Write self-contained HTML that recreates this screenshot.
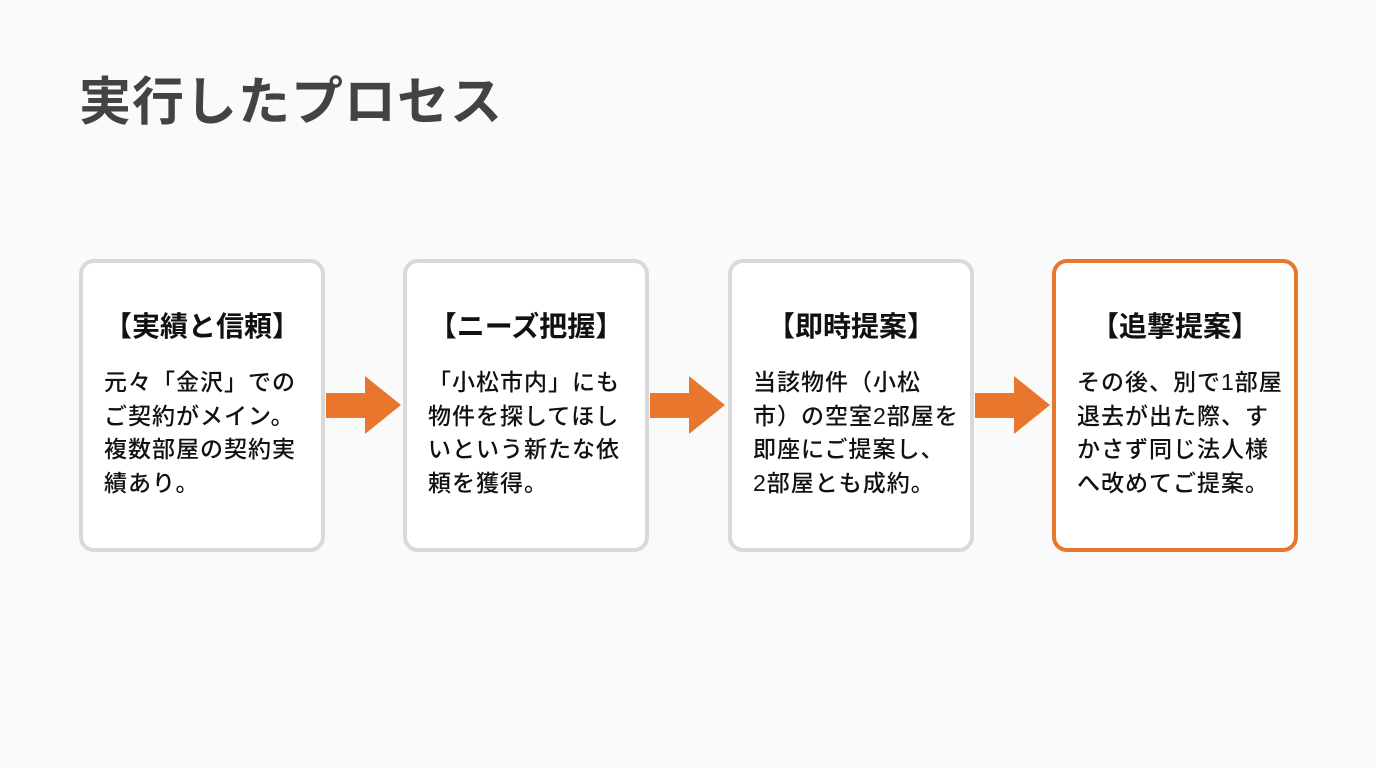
<!DOCTYPE html>
<html><head><meta charset="utf-8"><style>
body{margin:0;width:1376px;height:768px;background:#fafafa;font-family:"Liberation Sans","Noto Sans CJK JP",sans-serif;position:relative;overflow:hidden}
h1{position:absolute;left:79px;top:60px;margin:0;font-size:52px;font-weight:bold;color:#434343;letter-spacing:1px}
.box{position:absolute;top:259px;width:238px;height:285px;border:4px solid #d9d9d9;border-radius:15px;background:#fff}
.box.o{border-color:#e8762d}
.box h2{margin:0;position:absolute;top:42px;left:0;right:0;text-align:center;font-size:28px;font-weight:bold;color:#111;white-space:nowrap}
.box p{margin:0;position:absolute;top:103px;left:21px;font-size:23px;font-weight:500;line-height:33.5px;color:#111;letter-spacing:1px;white-space:nowrap}
svg{position:absolute}
</style></head><body>
<h1>実行したプロセス</h1>
<div class="box" style="left:79px"><h2>【実績と信頼】</h2><p>元々「金沢」での<br>ご契約がメイン。<br>複数部屋の契約実<br>績あり。</p></div>
<div class="box" style="left:403px"><h2>【ニーズ把握】</h2><p>「小松市内」にも<br>物件を探してほし<br>いという新たな依<br>頼を獲得。</p></div>
<div class="box" style="left:728px"><h2>【即時提案】</h2><p>当該物件（小松<br>市）の空室2部屋を<br>即座にご提案し、<br>2部屋とも成約。</p></div>
<div class="box o" style="left:1052px"><h2>【追撃提案】</h2><p>その後、別で1部屋<br>退去が出た際、す<br>かさず同じ法人様<br>へ改めてご提案。</p></div>
<svg width="1376" height="768" style="left:0;top:0">
<g fill="#e8762d">
<polygon points="326,393 365,393 365,376 401,405 365,434 365,418 326,418"/>
<polygon points="650,393 689,393 689,376 725,405 689,434 689,418 650,418"/>
<polygon points="975,393 1014,393 1014,376 1050,405 1014,434 1014,418 975,418"/>
</g></svg>
</body></html>
